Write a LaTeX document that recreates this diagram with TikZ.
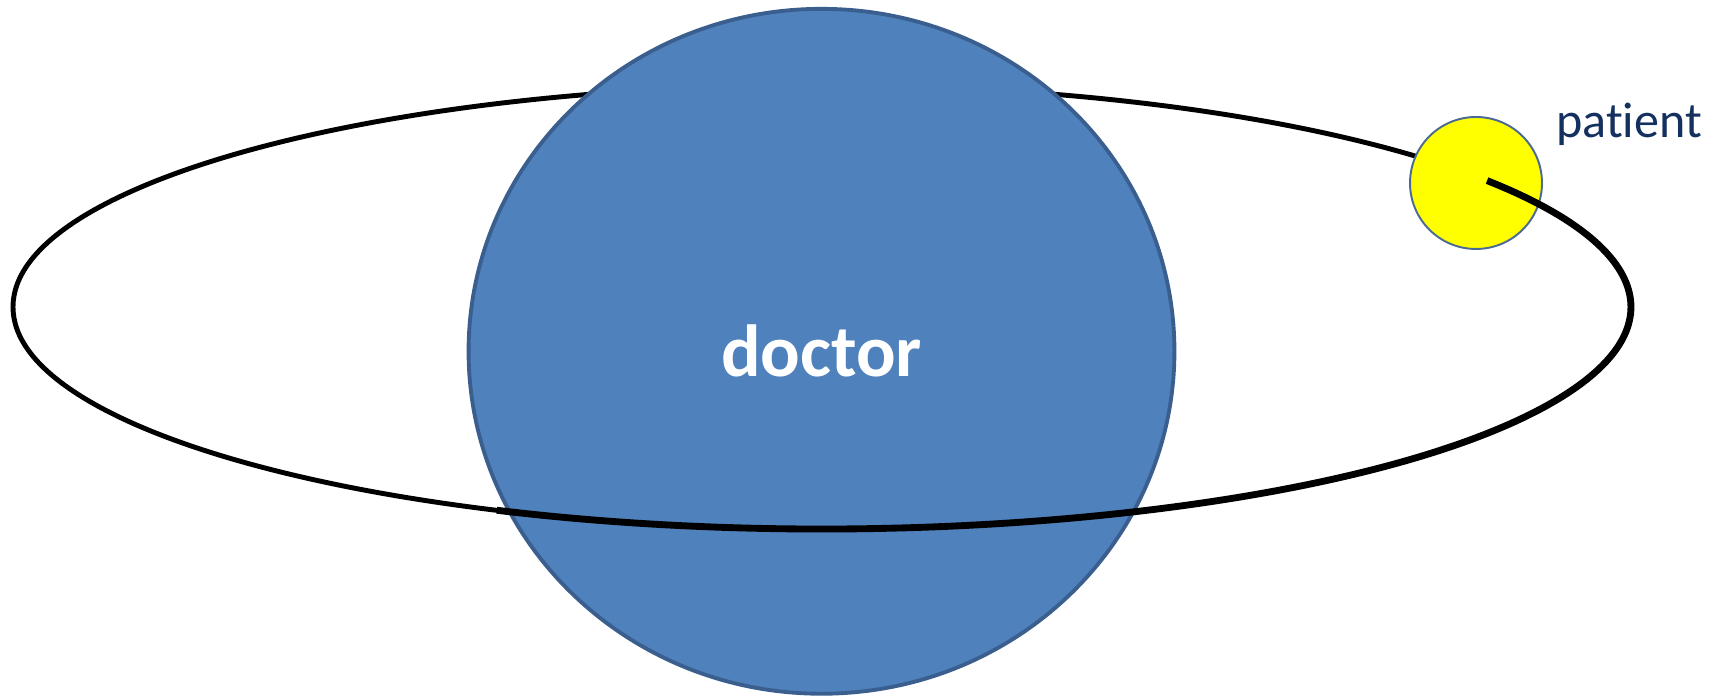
\documentclass[tikz,border=0pt]{standalone}
\usepackage{fontspec}
\newfontfamily\calibri[Ligatures=NoCommon]{Carlito}
\usetikzlibrary{shapes.geometric}
\definecolor{docfill}{HTML}{4F81BD}
\definecolor{docline}{HTML}{3A5F8E}
\definecolor{patline}{HTML}{4A6A94}
\definecolor{patfill}{HTML}{FFFF00}
\definecolor{navytext}{HTML}{14305F}
\tikzset{
  backring/.style={line width=2.8pt, black},
  frontring/.style={line width=3.9pt, black},
  docbody/.style={ellipse, fill=docfill, draw=docline, line width=2.2pt, inner sep=0pt,
    minimum width=14.12cm, minimum height=13.7cm, text=white, font=\calibri\bfseries\fontsize{42}{48}\selectfont},
  patbody/.style={circle, fill=patfill, draw=patline, line width=1.1pt, inner sep=0pt, minimum size=2.64cm},
  patlabel/.style={text=navytext, inner sep=0pt, font=\calibri\fontsize{28.5}{32}\selectfont}
}
\begin{document}
\begin{tikzpicture}[x=0.02cm,y=0.02cm]
\useasboundingbox (0,0) rectangle (1721,696);
\coordinate (oc) at (822,389);
% back part of the orbit (full ellipse, later partly covered)
\draw[backring] (oc) ellipse [x radius=809, y radius=222];
% doctor
\node[docbody] (doctor) at (821.5,344.7) {doctor};
% patient
\node[patbody] (patient) at (1476,513) {};
% front part of the orbit
\draw[frontring] (oc) ++(246.3:809 and 222) arc[start angle=246.3, end angle=394.7, x radius=809, y radius=222];
% label
\node[patlabel, anchor=base west] (patienttext) at (1556,558) {patient};
\end{tikzpicture}
\end{document}
